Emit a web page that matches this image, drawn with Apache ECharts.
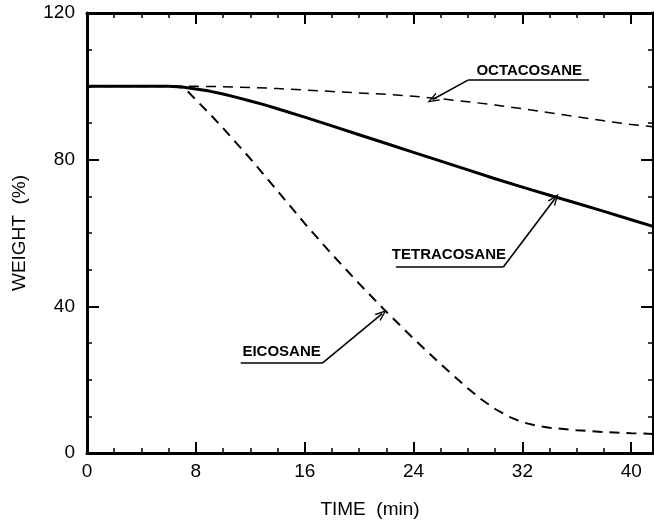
<!DOCTYPE html>
<html>
<head>
<meta charset="utf-8">
<script src="https://cdn.jsdelivr.net/npm/echarts@6/dist/echarts.min.js"></script>
<style>html,body{margin:0;padding:0;background:#fff}#c{width:654px;height:525px}</style>
</head>
<body>
<div id="c"></div>
<script>
// ---- data ----
const xTicks = [0, 8, 16, 24, 32, 40];
const yTicks = [0, 40, 80, 120];

const eicosaneTime   = [0, 6.5, 7, 7.5, 8, 9, 10, 12, 14, 16, 18, 20, 22, 24, 26, 28, 29, 30, 31, 32, 33, 34, 36, 38, 40, 41.6];
const eicosaneWeight = [100, 100, 99.6, 98.3, 96.3, 92.6, 88.6, 80.3, 71.5, 62.6, 54.2, 46.2, 38.5, 31.2, 24.2, 17.6, 14.6, 12.0, 9.9, 8.4, 7.5, 6.9, 6.2, 5.7, 5.4, 5.2];

const tetracosaneTime   = [0, 6, 7, 8, 9, 10, 11, 12, 13, 14, 16, 18, 20, 22, 24, 26, 28, 30, 32, 34, 36, 38, 40, 41.6];
const tetracosaneWeight = [100, 100, 99.8, 99.3, 98.7, 97.9, 97.0, 96.0, 95.0, 93.9, 91.6, 89.2, 86.8, 84.4, 82.0, 79.6, 77.2, 74.8, 72.5, 70.3, 68.1, 65.9, 63.6, 61.8];

const octacosaneTime   = [0, 8, 10, 12, 14, 16, 18, 20, 22, 24, 26, 28, 30, 32, 34, 36, 38, 40, 41.6];
const octacosaneWeight = [100, 100, 99.9, 99.7, 99.4, 99.0, 98.6, 98.2, 97.8, 97.3, 96.6, 95.8, 94.9, 93.9, 92.8, 91.7, 90.6, 89.6, 89.0];

// annotation anchors in data units: label centre, underline [x0, x1, y], arrow tip [x, y]
const octacosaneNote  = { text: 'OCTACOSANE',  label: [32.5, 104.3], line: [28.0, 36.9, 101.7], tip: [25.4, 96.4] };
const tetracosaneNote = { text: 'TETRACOSANE', label: [26.6, 54.0],  line: [22.7, 30.6, 50.7],  tip: [34.4, 69.4] };
const eicosaneNote    = { text: 'EICOSANE',    label: [14.3, 27.7],  line: [11.3, 17.3, 24.5],  tip: [21.7, 38.0] };

const xMin = 0, xMax = 41.6, yMin = 0, yMax = 120;

function pairs(xs, ys) { return xs.map((x, i) => [x, ys[i]]); }

const chevron = 'path://M5,0 L10,12 L8.4,12 L5,3.6 L1.6,12 L0,12 Z';
function notes(n) {
  return {
    markLine: {
      silent: true,
      animation: false,
      symbol: ['none', 'none'],
      label: { show: false },
      lineStyle: { color: '#000', width: 1.6, type: 'solid' },
      data: [
        [{ coord: [n.line[0], n.line[2]] }, { coord: [n.line[1], n.line[2]] }],
        [{ coord: [n.line[n.tip[0] > n.line[1] ? 1 : 0], n.line[2]], symbol: 'none' },
         { coord: n.tip, symbol: chevron, symbolSize: [9, 12] }]
      ]
    },
    markPoint: {
      silent: true,
      animation: false,
      symbol: 'rect',
      symbolSize: 1,
      itemStyle: { color: 'rgba(0,0,0,0)' },
      label: {
        show: true, position: 'inside', formatter: n.text,
        fontFamily: 'Liberation Sans', fontWeight: 'bold', fontSize: 15, color: '#000'
      },
      data: [{ coord: n.label }]
    }
  };
}

const axisFont = { fontFamily: 'Liberation Sans', fontSize: 19, color: '#000' };
const lineSt = { color: '#000', width: 3 };

function xAxisDef(pos, showLabel) {
  return {
    type: 'value', position: pos, min: xMin, max: xMax, interval: 8,
    axisLine: { show: true, onZero: false, lineStyle: lineSt },
    axisTick: { show: true, inside: true, length: 11, lineStyle: { color: '#000', width: 2 } },
    minorTick: { show: true, splitNumber: 4, length: 5, lineStyle: { color: '#000', width: 1.5 } },
    splitLine: { show: false },
    axisLabel: Object.assign({ show: showLabel, margin: 9, showMaxLabel: false,
      formatter: v => (xTicks.indexOf(v) >= 0 ? String(v) : '') }, axisFont),
    name: showLabel ? 'TIME  (min)' : '',
    nameLocation: 'middle', nameGap: 47,
    nameTextStyle: { fontFamily: 'Liberation Sans', fontSize: 19, color: '#000' }
  };
}
function yAxisDef(pos, showLabel) {
  return {
    type: 'value', position: pos, min: yMin, max: yMax, interval: 40,
    axisLine: { show: true, onZero: false, lineStyle: lineSt },
    axisTick: { show: true, inside: true, length: 12, lineStyle: { color: '#000', width: 2 } },
    minorTick: { show: true, splitNumber: 4, length: 5, lineStyle: { color: '#000', width: 1.5 } },
    splitLine: { show: false },
    axisLabel: Object.assign({ show: showLabel, margin: 12,
      formatter: v => (yTicks.indexOf(v) >= 0 ? String(v) : '') }, axisFont),
    name: showLabel ? 'WEIGHT  (%)' : '',
    nameLocation: 'middle', nameGap: 58, nameRotate: 90,
    nameTextStyle: { fontFamily: 'Liberation Sans', fontSize: 19, color: '#000' }
  };
}

const chart = echarts.init(document.getElementById('c'), null, { renderer: 'canvas' });
chart.setOption({
  animation: false,
  backgroundColor: '#fff',
  grid: { left: 87, top: 13, right: 1, bottom: 72, outerBoundsMode: 'none', containLabel: false },
  xAxis: [xAxisDef('bottom', true), xAxisDef('top', false)],
  yAxis: [yAxisDef('left', true), yAxisDef('right', false)],
  series: [
    Object.assign({
      name: 'OCTACOSANE', type: 'line', xAxisIndex: 0, yAxisIndex: 0,
      data: pairs(octacosaneTime, octacosaneWeight),
      showSymbol: false, smooth: false,
      lineStyle: { color: '#000', width: 1.5, type: [10, 7] }
    }, notes(octacosaneNote)),
    Object.assign({
      name: 'TETRACOSANE', type: 'line', xAxisIndex: 0, yAxisIndex: 0,
      data: pairs(tetracosaneTime, tetracosaneWeight),
      showSymbol: false, smooth: false,
      lineStyle: { color: '#000', width: 3, type: 'solid', join: 'round' }
    }, notes(tetracosaneNote)),
    Object.assign({
      name: 'EICOSANE', type: 'line', xAxisIndex: 0, yAxisIndex: 0,
      data: pairs(eicosaneTime, eicosaneWeight),
      showSymbol: false, smooth: false,
      lineStyle: { color: '#000', width: 2, type: [10, 7] }
    }, notes(eicosaneNote))
  ]
});
</script>
</body>
</html>
